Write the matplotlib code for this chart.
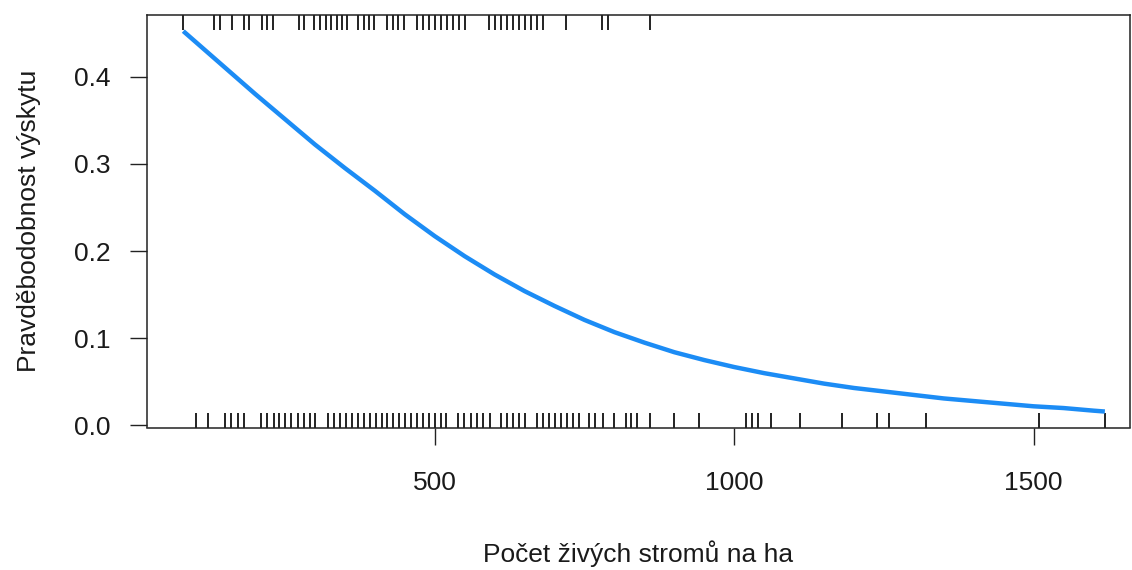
import matplotlib
matplotlib.use("Agg")
import matplotlib.pyplot as plt
import matplotlib.transforms as mtransforms

# Stand density (live trees per ha) for plots where the species was present / absent
present = [80, 132, 141, 162, 181, 190, 211, 220, 230, 273, 282, 299, 309, 318,
           327, 336, 345, 353, 372, 381, 390, 399, 420, 430, 439, 449, 470, 480,
           490, 500, 510, 521, 531, 541, 550, 591, 601, 610, 620, 630, 640, 650,
           660, 670, 680, 719, 780, 789, 860]
absent = [101, 122, 150, 160, 171, 181, 210, 220, 231, 240, 250, 260, 272, 282,
          292, 300, 322, 332, 342, 352, 361, 371, 382, 392, 401, 412, 421, 431,
          441, 451, 461, 471, 481, 491, 500, 510, 519, 539, 549, 560, 570, 580,
          592, 611, 621, 631, 641, 650, 670, 680, 690, 700, 710, 720, 730, 741,
          758, 768, 781, 799, 819, 828, 838, 860, 900, 941, 1019, 1030, 1040,
          1061, 1110, 1180, 1238, 1259, 1320, 1509, 1619]

# Fitted probability of occurrence
fit_x = [80, 100, 150, 200, 250, 300, 350, 400, 450, 500, 550, 600, 650, 700,
         750, 800, 850, 900, 950, 1000, 1050, 1100, 1150, 1200, 1250, 1300,
         1350, 1400, 1450, 1500, 1550, 1600, 1619]
fit_p = [0.452, 0.440, 0.410, 0.380, 0.351, 0.322, 0.295, 0.269, 0.242, 0.217,
         0.194, 0.173, 0.154, 0.137, 0.121, 0.107, 0.095, 0.084, 0.075, 0.067,
         0.060, 0.054, 0.048, 0.043, 0.039, 0.035, 0.031, 0.028, 0.025, 0.022,
         0.020, 0.017, 0.016]

x_ticks = [500, 1000, 1500]
y_ticks = [0.0, 0.1, 0.2, 0.3, 0.4]

plt.rcParams["font.family"] = ["Liberation Sans", "DejaVu Sans"]
text_color = "#1a1a1a"

fig = plt.figure(figsize=(11.32, 5.70), dpi=100)
ax = fig.add_axes([147 / 1132, 1 - 427.5 / 570, (1130 - 147) / 1132, (427.5 - 15) / 570])

ax.plot(fit_x, fit_p, color="#1C8CF5", lw=3.2, solid_capstyle="butt",
        solid_joinstyle="round", zorder=3)

# Rug marks along the top (present) and bottom (absent) edges
trans = mtransforms.blended_transform_factory(ax.transData, ax.transAxes)
rug_len = 15 / 412.5
ax.vlines(present, 1 - rug_len, 1, transform=trans, color="#111111", lw=1.3)
ax.vlines(absent, 0, rug_len, transform=trans, color="#111111", lw=1.3)

ax.set_xlim(19.4, 1661)
ax.set_ylim(-0.0023, 0.4705)

ax.set_xticks(x_ticks)
ax.set_xticklabels([str(v) for v in x_ticks])
ax.set_yticks(y_ticks)
ax.set_yticklabels([f"{v:.1f}" for v in y_ticks])

ax.tick_params(axis="both", direction="out", length=12, width=1.0,
               colors="#222222", labelsize=19, labelcolor=text_color)
ax.tick_params(axis="x", pad=19)
ax.tick_params(axis="y", pad=14)

for s in ax.spines.values():
    s.set_linewidth(1.1)
    s.set_color("#222222")

ax.set_xlabel("Počet živých stromů na ha", fontsize=19, color=text_color, labelpad=33)
ax.set_ylabel("Pravděbodobnost výskytu", fontsize=19, color=text_color, labelpad=24)

fig.savefig("out.png", dpi=100)
